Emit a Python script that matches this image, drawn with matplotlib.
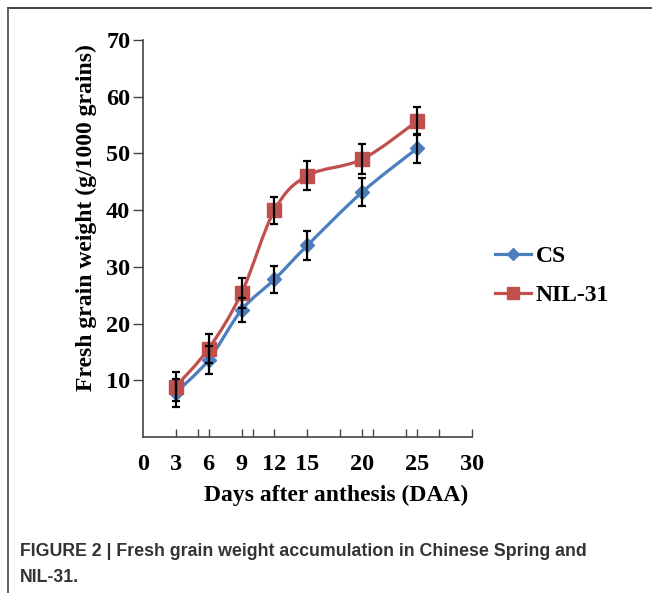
import matplotlib
matplotlib.use('Agg')
import matplotlib.pyplot as plt
from matplotlib.path import Path
from matplotlib.patches import PathPatch
from matplotlib.lines import Line2D
import numpy as np

# data
days = [3, 6, 9, 12, 15, 20, 25]
cs_weight = [7.8, 13.6, 22.4, 27.8, 33.8, 43.2, 50.9]
cs_err = [2.5, 2.5, 2.2, 2.4, 2.5, 2.5, 2.5]
nil_weight = [8.9, 15.6, 25.4, 40.0, 46.1, 49.0, 55.7]
nil_err = [2.6, 2.5, 2.6, 2.4, 2.5, 2.6, 2.5]

x_label_ticks = [0, 3, 6, 9, 12, 15, 20, 25, 30]
y_label_ticks = [10, 20, 30, 40, 50, 60, 70]

blue = '#4A7EBD'
red = '#C0504D'
serif = 'Liberation Serif'


def smooth_path(xs, ys):
    # Excel-like smoothed line: cubic bezier segments, catmull-rom control points
    xs = np.asarray(xs, float)
    ys = np.asarray(ys, float)
    pts = np.column_stack([xs, ys])
    verts = [pts[0]]
    codes = [Path.MOVETO]
    n = len(pts)
    for i in range(n - 1):
        p0 = pts[max(i - 1, 0)]
        p1 = pts[i]
        p2 = pts[i + 1]
        p3 = pts[min(i + 2, n - 1)]
        c1 = p1 + (p2 - p0) / 6.0
        c2 = p2 - (p3 - p1) / 6.0
        verts += [c1, c2, p2]
        codes += [Path.CURVE4] * 3
    return Path(verts, codes)


fig = plt.figure(figsize=(6.52, 5.93), dpi=100)
ax = fig.add_axes([0.219, 0.263, 0.505, 0.6695])

for vals, errs, col, mk, ms in [(cs_weight, cs_err, blue, 'D', 7),
                                (nil_weight, nil_err, red, 's', 9.5)]:
    ax.add_patch(PathPatch(smooth_path(days, vals), facecolor='none',
                           edgecolor=col, lw=2.3, zorder=2))
    ax.plot(days, vals, linestyle='none', marker=mk, ms=ms, color=col, zorder=3)
    ax.errorbar(days, vals, yerr=errs, fmt='none', ecolor='black',
                elinewidth=1.6, capsize=3, capthick=1.6, zorder=4)

ax.set_xlim(0, 30)
ax.set_ylim(0, 70)
ax.set_xticks(sorted(set(range(3, 31, 3)) | set(range(5, 31, 5))))
ax.set_xticklabels([])
ax.tick_params(axis='x', direction='in', length=6, width=1, color='#444444')
ax.set_yticks(y_label_ticks)
ax.set_yticklabels([str(v) for v in y_label_ticks], fontsize=17.5,
                   fontweight='bold', family=serif)
ax.tick_params(axis='y', direction='out', length=7, width=1, color='#444444', pad=2)

# x tick labels (major numbers only)
for v in x_label_ticks:
    ax.text(v, -3.0, str(v), ha='center', va='top', fontsize=17.5,
            fontweight='bold', family=serif, transform=ax.transData)

for side in ['top', 'right']:
    ax.spines[side].set_visible(False)
for side in ['left', 'bottom']:
    ax.spines[side].set_color('#444444')
    ax.spines[side].set_linewidth(1.2)

fig.text(86 / 652, 1 - 218 / 593, 'Fresh grain weight (g/1000 grains)',
         rotation=90, ha='center', va='center', fontsize=17,
         fontweight='bold', family=serif)
fig.text(336 / 652, 1 - 495 / 593, 'Days after anthesis (DAA)',
         ha='center', va='center', fontsize=17, fontweight='bold', family=serif)

handles = [Line2D([], [], color=blue, lw=2.3, marker='D', ms=6),
           Line2D([], [], color=red, lw=2.3, marker='s', ms=8)]
fig.legend(handles, ['CS', 'NIL-31'], loc='center left',
           bbox_to_anchor=(474 / 652, 1 - 276 / 593), frameon=False,
           prop={'family': serif, 'weight': 'bold', 'size': 17},
           handlelength=1.5, handletextpad=0.2, labelspacing=0.75)

# figure panel frame and caption
fig.add_artist(Line2D([8 / 652, 1.0], [1 - 8 / 593, 1 - 8 / 593],
                      transform=fig.transFigure, color='#333333', lw=1.3))
fig.add_artist(Line2D([8 / 652, 8 / 652], [0, 1 - 8 / 593],
                      transform=fig.transFigure, color='#555555', lw=1.3))
fig.text(20 / 652, 1 - 552 / 593,
         'FIGURE 2 | Fresh grain weight accumulation in Chinese Spring and',
         ha='left', va='center', fontsize=12.8, fontweight='bold',
         family='Liberation Sans', color='#333333')
fig.text(20 / 652, 1 - 577 / 593, 'NIL-31.',
         ha='left', va='center', fontsize=12.8, fontweight='bold',
         family='Liberation Sans', color='#333333')

fig.savefig('out.png', dpi=100)
